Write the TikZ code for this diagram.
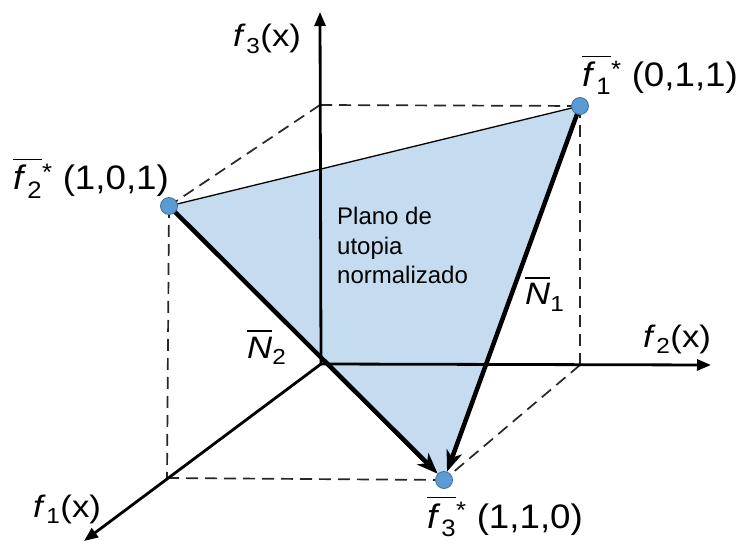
\documentclass[tikz,border=0pt]{standalone}
\usepackage{fontspec}
\setmainfont{Liberation Sans}
\newfontfamily\lblfont{Liberation Sans}[FakeStretch=1.12]
\newfontfamily\ptfont{Liberation Sans}[FakeStretch=1.08]
\usetikzlibrary{arrows.meta,backgrounds}
\definecolor{planefill}{HTML}{C5DCF0}
\definecolor{ptfill}{HTML}{5B9BD5}
\definecolor{ptdraw}{HTML}{41719C}
\newcommand\fsub[1]{\textit{f}\kern0.02em\textsubscript{#1}}
\newcommand\ovl[1]{\leavevmode\vbox{\hrule height 1.5pt\kern 5pt\hbox{#1}}}
\begin{document}
\begin{tikzpicture}[x=1pt,y=-1pt,
 axis/.style={line width=2.8pt, -{Triangle[length=14pt,width=11pt]}},
 cube/.style={line width=1.7pt, dash pattern=on 12pt off 7pt, black!85},
 vec/.style={line width=4.5pt, -{Stealth[length=21pt,width=16pt,inset=6pt]}},
 edgeline/.style={line width=1.3pt},
 pt/.style={circle, fill=ptfill, draw=ptdraw, line width=0.8pt, minimum size=17pt, inner sep=0pt},
 lbl/.style={font=\lblfont\fontsize{31}{36}\selectfont, inner sep=0pt, anchor=base west},
 plbl/.style={font=\ptfont\fontsize{34}{40}\selectfont, inner sep=0pt, anchor=base west},
 plano/.style={font=\fontsize{24}{29.5}\selectfont, align=left, inner sep=0pt, anchor=north west}]

\useasboundingbox (0,0) rectangle (744,545);

% points
\node[pt] (p1) at (580,106) {};
\node[pt] (p2) at (169,206) {};
\node[pt] (p3) at (444,480) {};

\coordinate (O) at (321,364);
\coordinate (Z) at (320,12);
\coordinate (Y) at (711,365);
\coordinate (X) at (84,541);
\coordinate (B) at (320,105);
\coordinate (R) at (580,365);
\coordinate (L) at (167,478);

\begin{scope}[on background layer]
\fill[white] (0,0) rectangle (744,545);
\fill[planefill] (p1.center) -- (p2.center) -- (p3.center) -- cycle;
\draw[cube] (B) -- (p1.center);
\draw[cube] (B) -- (p2.center);
\draw[cube] (p1.center) -- (R);
\draw[cube] (R) -- (p3.center);
\draw[cube] (p2.center) -- (L);
\draw[cube] (L) -- (p3.center);
\draw[axis] (O) -- (Z);
\draw[axis] (O) -- (Y);
\draw[axis] (O) -- (X);
\draw[edgeline] (p2.center) -- (p1.center);
\draw[vec] (p2.center) -- (p3);
\draw[vec] (p1.center) -- (p3);
\end{scope}

% labels
\node[lbl] (lz) at (233,47) {\fsub{3}(x)};
\node[lbl] (ly) at (643,347) {\fsub{2}(x)};
\node[lbl] (lx) at (33,517) {\fsub{1}(x)};
\node[plbl] (l1) at (582,87) {\ovl{\fsub{1}}\textsuperscript{*} (0,1,1)};
\node[plbl] (l2) at (13,190) {\ovl{\fsub{2}}\textsuperscript{*} (1,0,1)};
\node[plbl] (l3) at (427,528) {\ovl{\fsub{3}}\textsuperscript{*} (1,1,0)};
\node[lbl] (n1) at (525,305) {\ovl{\textit{N}}\textsubscript{1}};
\node[lbl] (n2) at (247,358) {\ovl{\textit{N}}\textsubscript{2}};
\node[plano] (pl) at (337,207) {Plano de\\utopia\\normalizado};
\end{tikzpicture}
\end{document}
